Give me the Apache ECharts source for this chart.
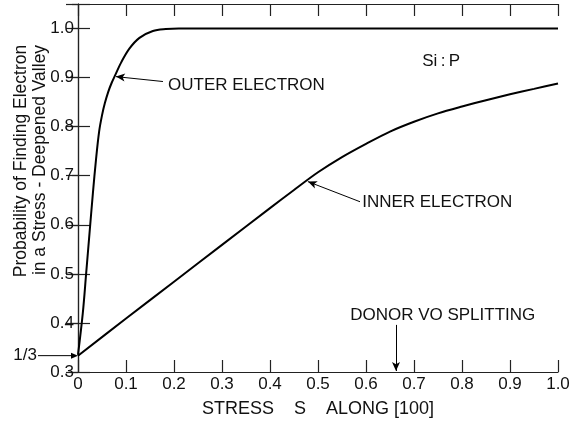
<!DOCTYPE html>
<html><head><meta charset="utf-8">
<script src="https://cdn.jsdelivr.net/npm/echarts@6/dist/echarts.min.js"></script>
<style>html,body{margin:0;padding:0;background:#fff}#c{width:578px;height:423px}</style>
</head><body><div id="c"></div>
<script>
// ---- data ----
const outerS = [0, 0.01, 0.017, 0.024, 0.031, 0.0375, 0.044, 0.05, 0.056, 0.063, 0.07, 0.078, 0.09, 0.107, 0.128, 0.156, 0.183, 0.21, 0.3, 0.5, 0.7, 1.0];
const outerV = [0.335, 0.42, 0.501, 0.583, 0.664, 0.733, 0.79, 0.823, 0.848, 0.871, 0.889, 0.906, 0.931, 0.959, 0.981, 0.995, 0.999, 1.0, 1.0, 1.0, 1.0, 1.0];
const innerS = [0, 0.1, 0.2, 0.3, 0.4, 0.45, 0.5, 0.55, 0.6, 0.65, 0.7, 0.75, 0.8, 0.85, 0.9, 0.95, 1.0];
const innerV = [0.333, 0.409, 0.484, 0.559, 0.634, 0.671, 0.707, 0.738, 0.765, 0.790, 0.810, 0.827, 0.841, 0.854, 0.866, 0.877, 0.888];
const xTickLabels = ['0','0.1','0.2','0.3','0.4','0.5','0.6','0.7','0.8','0.9','1.0'];
const yTickLabels = ['0.3','0.4','0.5','0.6','0.7','0.8','0.9','1.0'];
const donorSplitting = 0.6625;
const oneThird = 1/3;

const FONT = 'Liberation Sans';
const ink = '#111';
const pair = (s, v) => s.map((x, i) => [x, v[i]]);

const chart = echarts.init(document.getElementById('c'), null, {renderer: 'canvas'});
const lbl = {color: ink, fontFamily: FONT, fontSize: 17};
const axLine = {show: true, lineStyle: {color: '#222', width: 1.2}};
const tickIn = {show: true, inside: true, length: 12, lineStyle: {color: '#222', width: 1.2}};

chart.setOption({
  animation: false,
  backgroundColor: '#fff',
  grid: {left: 78, right: 20, top: 4, bottom: 51},
  xAxis: [
    {type: 'value', min: 0, max: 1, interval: 0.1, position: 'bottom',
     axisLine: axLine, axisTick: tickIn, splitLine: {show: false},
     axisLabel: Object.assign({margin: 4, formatter: v => { const i = Math.round(v * 10); return Math.abs(v * 10 - i) < 1e-6 ? (xTickLabels[i] || '') : ''; }}, lbl),
     name: 'STRESS    S    ALONG [100]', nameLocation: 'middle', nameGap: 28,
     nameTextStyle: {color: ink, fontFamily: FONT, fontSize: 18}},
    {type: 'value', min: 0, max: 1, interval: 0.1, position: 'top',
     axisLine: axLine, axisTick: tickIn, axisLabel: {show: false}, splitLine: {show: false}}
  ],
  yAxis: [
    {type: 'value', min: 0.3, max: 1.05, interval: 0.1, position: 'left',
     axisLine: axLine, axisTick: tickIn, splitLine: {show: false},
     axisLabel: Object.assign({margin: 4, formatter: v => { const k = (v - 0.3) * 10; const i = Math.round(k); return Math.abs(k - i) < 1e-6 ? (yTickLabels[i] || '') : ''; }}, lbl)},
    {type: 'value', min: 0.3, max: 1.05, interval: 0.1, position: 'right',
     axisLine: axLine, axisTick: tickIn, axisLabel: {show: false}, splitLine: {show: false}},
    {type: 'value', min: 0.3, max: 1.05, interval: 0.1, position: 'left',
     axisLine: {show: false}, axisTick: {show: true, inside: false, length: 6, lineStyle: {color: '#222', width: 1.2}},
     axisLabel: {show: false}, splitLine: {show: false}}
  ],
  series: [
    {name: 'Outer electron', type: 'line', data: pair(outerS, outerV), showSymbol: false, symbol: 'none',
     smooth: 0.35, lineStyle: {color: '#000', width: 2}},
    {name: 'Inner electron', type: 'line', data: pair(innerS, innerV), showSymbol: false, symbol: 'none',
     smooth: 0.3, lineStyle: {color: '#000', width: 2},
     markLine: {silent: true, symbol: ['none', 'arrow'], symbolSize: [6, 9], label: {show: false},
       lineStyle: {color: '#000', width: 1, type: 'solid'},
       data: [
         [{coord: [0.177, 0.892]}, {coord: [0.079, 0.902]}],
         [{coord: [0.5875, 0.647]}, {coord: [0.479, 0.688]}],
         [{coord: [donorSplitting, 0.396]}, {coord: [donorSplitting, 0.302]}]
       ]}}
  ]
});

// annotation texts placed through the chart's own scales
const texts = [
  {t: 'OUTER ELECTRON', at: [0.1875, 0.884]},
  {t: 'INNER ELECTRON', at: [0.592, 0.645]},
  {t: 'Si\u2009:\u2009P', at: [0.717, 0.933]},
  {t: 'DONOR VO SPLITTING', at: [0.567, 0.416]}
];
const g = texts.map(o => {
  const p = chart.convertToPixel({gridIndex: 0}, o.at);
  return {type: 'text', x: p[0], y: p[1], style: {text: o.t, fill: ink, font: '17px "' + FONT + '"', textVerticalAlign: 'middle', textAlign: 'left'}};
});
const p13 = chart.convertToPixel({gridIndex: 0}, [0, oneThird]);
g.push({type: 'text', x: p13[0] - 41, y: p13[1], style: {text: '1/3', fill: ink, font: '17px "' + FONT + '"', textAlign: 'right', textVerticalAlign: 'middle'}});
g.push({type: 'line', shape: {x1: p13[0] - 40, y1: p13[1], x2: p13[0] - 5, y2: p13[1]}, style: {stroke: '#000', lineWidth: 1}});
g.push({type: 'polygon', shape: {points: [[p13[0], p13[1]], [p13[0] - 7, p13[1] - 3], [p13[0] - 7, p13[1] + 3]]}, style: {fill: '#000'}});
g.push({type: 'text', x: 21, y: 161, rotation: Math.PI / 2, style: {text: 'Probability of Finding Electron', fill: ink, font: '17.5px "' + FONT + '"', textAlign: 'center', textVerticalAlign: 'middle'}});
g.push({type: 'text', x: 40, y: 160, rotation: Math.PI / 2, style: {text: 'in a Stress - Deepened Valley', fill: ink, font: '17.5px "' + FONT + '"', textAlign: 'center', textVerticalAlign: 'middle'}});
chart.setOption({graphic: g});
</script></body></html>
